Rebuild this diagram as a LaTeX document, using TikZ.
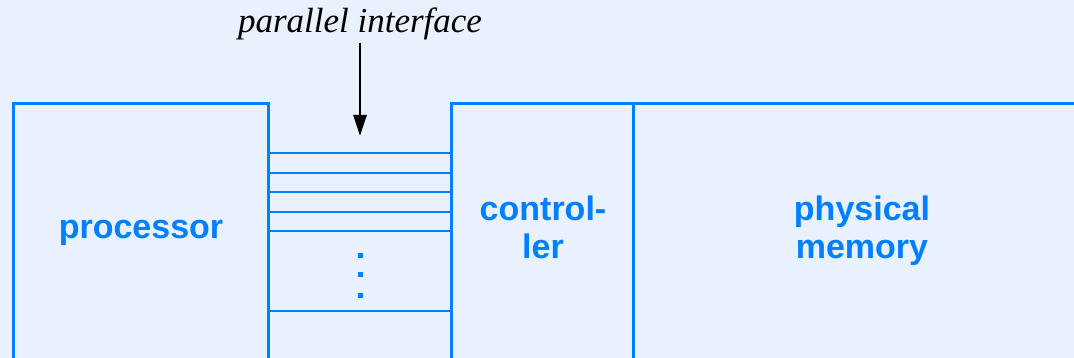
\documentclass[tikz,border=0pt]{standalone}
\usepackage{fontspec}
\setmainfont{Liberation Serif}
\setsansfont{Liberation Sans}
\usetikzlibrary{arrows.meta}
\definecolor{memblue}{RGB}{0,128,255}
\definecolor{pagebg}{RGB}{232,241,253}

\begin{document}
\begin{tikzpicture}
[
	x=1pt,y=-1pt,
	blockline/.style={draw=memblue,line width=3pt},
	wire/.style={draw=memblue,line width=2.6pt},
	blocklabel/.style={text=memblue,font=\sffamily\bfseries\fontsize{34}{38}\selectfont,align=center,inner sep=0pt},
	dotmark/.style={fill=memblue,inner sep=0pt,minimum size=5pt}
]

	% background
	\fill[pagebg] (0,0) rectangle (1074,358);
	\useasboundingbox (0,0) rectangle (1074,358);
	\clip (0,0) rectangle (1074,358);

	% blocks
	\draw[blockline] (13.5,370) -- (13.5,104) -- (268,104) -- (268,370);
	\draw[blockline] (451,370) -- (451,104) -- (1090,104);
	\draw[blockline] (633,104) -- (633,370);

	% labels
	\node[blocklabel,anchor=base] at (141,239) (proc) {processor};
	\node[blocklabel] at (543,227.5) (ctrl) {control-\\ler};
	\node[blocklabel] at (862,231) (mem) {physical\\memory};

	% bus
	\foreach \y in {153,173,192,212,231,311}
		\draw[wire] (268,\y) -- (451,\y);
	\foreach \y in {256,275,295}
		\node[dotmark] at (360,\y) {};

	% interface label
	\node[font=\itshape\fontsize{35}{40}\selectfont,inner sep=0pt,anchor=base] at (360,33) (iface) {parallel interface};
	\coordinate (bustop) at (360,136);
	\draw[line width=2.8pt,-{Triangle[length=21pt,width=13pt]},shorten <=2pt] (iface.south) -- (bustop);

\end{tikzpicture}
\end{document}
